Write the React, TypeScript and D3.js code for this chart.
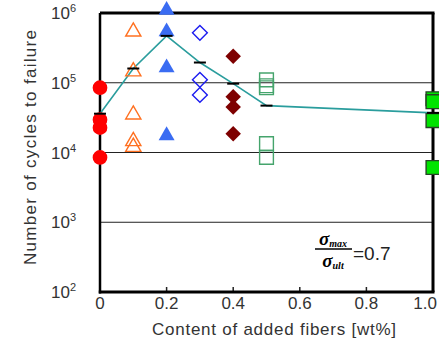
import React from 'react';
import * as d3 from 'd3';

// fiber contents (wt%) per group
const fiberContents = [0, 0.1, 0.2, 0.3, 0.4, 0.5, 1.0];

// cycles to failure for each specimen
const cycles00 = [85000, 29500, 22700, 8500];
const cycles01 = [540000, 145000, 35000, 14500, 12000];
const cycles02 = [1100000, 540000, 165000, 17500];
const cycles03 = [520000, 110000, 67000];
const cycles04 = [240000, 63000, 45000, 18500];
const cycles05 = [110000, 90600, 84800, 13400, 8500];
const cycles10 = [59000, 53500, 28700, 6100];

// average life per group (the teal line)
const meanCycles = [36000, 160000, 470000, 195000, 97000, 47000, 37000];

const xTicks = [0, 0.2, 0.4, 0.6, 0.8, 1.0];
const yTicks = [2, 3, 4, 5, 6];

const W = 439;
const H = 345;
const left = 100, right = 433, top = 13, bottom = 292;

const x = d3.scaleLinear().domain([0, 1]).range([left, right]);
const y = d3.scaleLog().domain([1e2, 1e6]).range([bottom, top]);

const groups = [
  { data: cycles00, x: fiberContents[0], type: d3.symbolCircle, size: 170, fill: '#ff0000', stroke: 'none' },
  { data: cycles01, x: fiberContents[1], type: d3.symbolTriangle, size: 100, fill: 'none', stroke: '#ff7020' },
  { data: cycles02, x: fiberContents[2], type: d3.symbolTriangle, size: 110, fill: '#3a6cf2', stroke: 'none' },
  { data: cycles03, x: fiberContents[3], type: 'diamond', size: 110, fill: 'none', stroke: '#1c1cf0' },
  { data: cycles04, x: fiberContents[4], type: 'diamond', size: 120, fill: '#7e0000', stroke: 'none' },
  { data: cycles05, x: fiberContents[5], type: d3.symbolSquare, size: 190, fill: 'none', stroke: '#45a46c' },
  { data: cycles10, x: fiberContents[6], type: d3.symbolSquare, size: 190, fill: '#00e400', stroke: '#264426' },
];

const symbolPath = (type: any, size: number) =>
  d3.symbol().type(type === 'diamond' ? d3.symbolSquare : type).size(size)() as string;

export default function App() {
  const meanLine = d3.line<number>()
    .x((_, i) => x(fiberContents[i]))
    .y(d => y(d));

  const sans = '"Liberation Sans", Arial, sans-serif';
  const serif = '"Liberation Serif", "Times New Roman", serif';

  return (
    <svg width={W} height={H} style={{ position: 'absolute', left: 0, top: 0, background: '#fff' }}>
      {/* grid lines */}
      {[1e3, 1e4, 1e5].map(v => (
        <line key={v} x1={left} x2={right} y1={y(v)} y2={y(v)} stroke="#222" strokeWidth={1} />
      ))}

      {/* x ticks (inside) */}
      {xTicks.slice(1, -1).map(t => (
        <line key={t} x1={x(t)} x2={x(t)} y1={bottom} y2={bottom - 5} stroke="#222" strokeWidth={1.5} />
      ))}

      {/* frame */}
      <line x1={left} x2={right + 1.5} y1={top} y2={top} stroke="#000" strokeWidth={3} />
      <line x1={right} x2={right} y1={top} y2={bottom} stroke="#000" strokeWidth={3} />
      <line x1={left} x2={left} y1={top} y2={bottom + 1.5} stroke="#000" strokeWidth={2.5} />
      <line x1={left - 1.25} x2={right + 1.5} y1={bottom} y2={bottom} stroke="#000" strokeWidth={3} />

      {/* mean line */}
      <path d={meanLine(meanCycles) as string} fill="none" stroke="#2a9d9d" strokeWidth={1.6} />

      {/* markers */}
      {groups.map((g, gi) =>
        g.data.map((v, i) => (
          <path
            key={`${gi}-${i}`}
            d={symbolPath(g.type, g.size)}
            transform={`translate(${x(g.x)},${y(v)})${g.type === 'diamond' ? ' rotate(45)' : ''}`}
            fill={g.fill}
            stroke={g.stroke}
            strokeWidth={1.4}
          />
        ))
      )}

      {/* mean dashes */}
      {meanCycles.map((m, i) => (
        <line key={i} x1={x(fiberContents[i]) - 6} x2={x(fiberContents[i]) + 6} y1={y(m)} y2={y(m)} stroke="#000" strokeWidth={2} />
      ))}

      {/* y tick labels */}
      {yTicks.map(e => (
        <text key={e} x={76} y={y(Math.pow(10, e)) + 6} textAnchor="end" fontFamily={sans} fontSize={17} fill="#333">
          10<tspan dy={-7} fontSize={11}>{e}</tspan>
        </text>
      ))}

      {/* x tick labels */}
      {xTicks.map(t => (
        <text key={t} x={t === 1 ? 437 : x(t)} y={309} textAnchor={t === 1 ? 'end' : 'middle'} fontFamily={sans} fontSize={17} fill="#333">
          {t === 0 ? '0' : t.toFixed(1)}
        </text>
      ))}

      {/* axis titles */}
      <text x={152} y={335} textLength={244} lengthAdjust="spacing" fontFamily={sans} fontSize={17} fill="#333">
        Content of added fibers [wt%]
      </text>
      <text transform="translate(36,265) rotate(-90)" textLength={235} lengthAdjust="spacing" fontFamily={sans} fontSize={17} fill="#333">
        Number of cycles to failure
      </text>

      {/* stress ratio annotation */}
      <text x={333} y={245} textAnchor="middle" fontFamily={serif} fontStyle="italic" fontWeight="bold" fontSize={19} fill="#000">
        σ<tspan fontSize={10} dy={2}>max</tspan>
      </text>
      <line x1={315} x2={352} y1={249} y2={249} stroke="#000" strokeWidth={1.5} />
      <text x={333} y={267} textAnchor="middle" fontFamily={serif} fontStyle="italic" fontWeight="bold" fontSize={19} fill="#000">
        σ<tspan fontSize={10} dy={2}>ult</tspan>
      </text>
      <text x={353} y={260} fontFamily={sans} fontSize={19} fill="#222">
        =0.7
      </text>
    </svg>
  );
}
